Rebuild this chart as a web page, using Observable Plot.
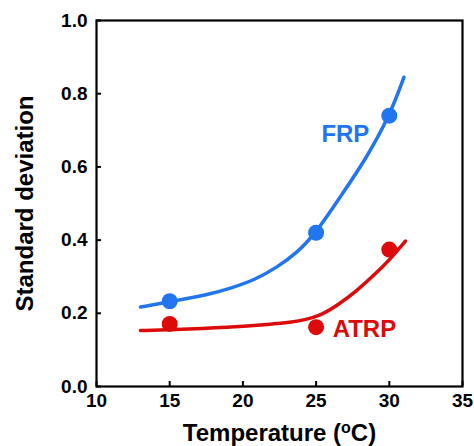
<!DOCTYPE html>
<html>
<head>
<meta charset="utf-8">
<script src="https://cdn.jsdelivr.net/npm/d3@7"></script>
<script src="https://cdn.jsdelivr.net/npm/@observablehq/plot@0.6"></script>
<style>
  html, body { margin: 0; padding: 0; background: white; }
  #chart { width: 474px; height: 446px; }
</style>
</head>
<body>
<div id="chart"></div>
<script>
// Ticks
const xTicks = [10, 15, 20, 25, 30, 35];
const yTicks = [0, 0.2, 0.4, 0.6, 0.8, 1.0];

// Measured points
const frpT = [15, 25, 30];
const frpSD = [0.233, 0.42, 0.74];
const atrpT = [15, 25, 30];
const atrpSD = [0.171, 0.162, 0.374];

// Fitted curves
const frpCurveT  = [13, 15, 17.45, 19.15, 20.86, 22.34, 23.7, 25.0, 26.78, 28.33, 30.03, 31.0];
const frpCurveSD = [0.217, 0.232, 0.249, 0.268, 0.292, 0.326, 0.365, 0.42, 0.526, 0.617, 0.74, 0.845];
const atrpCurveT  = [13, 15, 19.15, 21.9, 23.25, 24.2, 25.3, 26.44, 27.8, 29.17, 30.08, 31.1];
const atrpCurveSD = [0.153, 0.155, 0.162, 0.17, 0.175, 0.182, 0.194, 0.221, 0.262, 0.312, 0.349, 0.397];

// Series labels
const seriesNames = ["FRP", "ATRP"];
const labelT = [27.0, 28.3];
const labelSD = [0.689, 0.155];

const blue = "#2176F0";
const red = "#DC0A0A";
const colors = [blue, red];

const frpCurve = frpCurveT.map((t, i) => ({t, sd: frpCurveSD[i]}));
const atrpCurve = atrpCurveT.map((t, i) => ({t, sd: atrpCurveSD[i]}));
const frpPts = frpT.map((t, i) => ({t, sd: frpSD[i]}));
const atrpPts = atrpT.map((t, i) => ({t, sd: atrpSD[i]}));
const labels = seriesNames.map((name, i) => ({name, t: labelT[i], sd: labelSD[i], color: colors[i]}));

const font = "'Liberation Sans', Arial, Helvetica, sans-serif";

const chart = Plot.plot({
  width: 474,
  height: 446,
  marginLeft: 96,
  marginRight: 12,
  marginTop: 20,
  marginBottom: 60,
  style: {fontFamily: font, fontSize: "19px", fontWeight: "bold", color: "black", background: "white", overflow: "visible"},
  x: {domain: [10, 35]},
  y: {domain: [0, 1]},
  marks: [
    Plot.axisX({ticks: xTicks, tickFormat: d => String(d), tickSize: -5, tickPadding: 12, strokeWidth: 2, label: null}),
    Plot.axisY({ticks: yTicks, tickFormat: d => d.toFixed(1), tickSize: -5, tickPadding: 14, strokeWidth: 2, label: null}),
    Plot.frame({stroke: "black", strokeWidth: 2.2}),
    Plot.line(frpCurve, {x: "t", y: "sd", stroke: blue, strokeWidth: 3.5, curve: "basis"}),
    Plot.line(atrpCurve, {x: "t", y: "sd", stroke: red, strokeWidth: 3.5, curve: "basis"}),
    Plot.dot(frpPts, {x: "t", y: "sd", r: 8, fill: blue}),
    Plot.dot(atrpPts, {x: "t", y: "sd", r: 8, fill: red}),
    Plot.text(labels, {x: "t", y: "sd", text: "name", fill: "color", fontSize: 24, fontWeight: "bold"}),
    Plot.text(["Standard deviation"], {frameAnchor: "left", textAnchor: "middle", lineAnchor: "middle", rotate: -90, dx: -71, fontSize: 24, fontWeight: "bold", fill: "black"}),
    Plot.text(["Temperature (oC)"], {frameAnchor: "bottom", textAnchor: "middle", lineAnchor: "middle", dy: 47, fontSize: 24, fontWeight: "bold", fill: "black"})
  ]
});

document.getElementById("chart").appendChild(chart);

// Superscript "o" in the x-axis label
d3.select(chart).selectAll("text").each(function() {
  const t = d3.select(this);
  if (t.text() === "Temperature (oC)") {
    t.text(null);
    t.append("tspan").text("Temperature (");
    t.append("tspan").text("o").attr("font-size", 16).attr("dy", -8);
    t.append("tspan").text("C)").attr("dy", 8);
  }
});
</script>
</body>
</html>
